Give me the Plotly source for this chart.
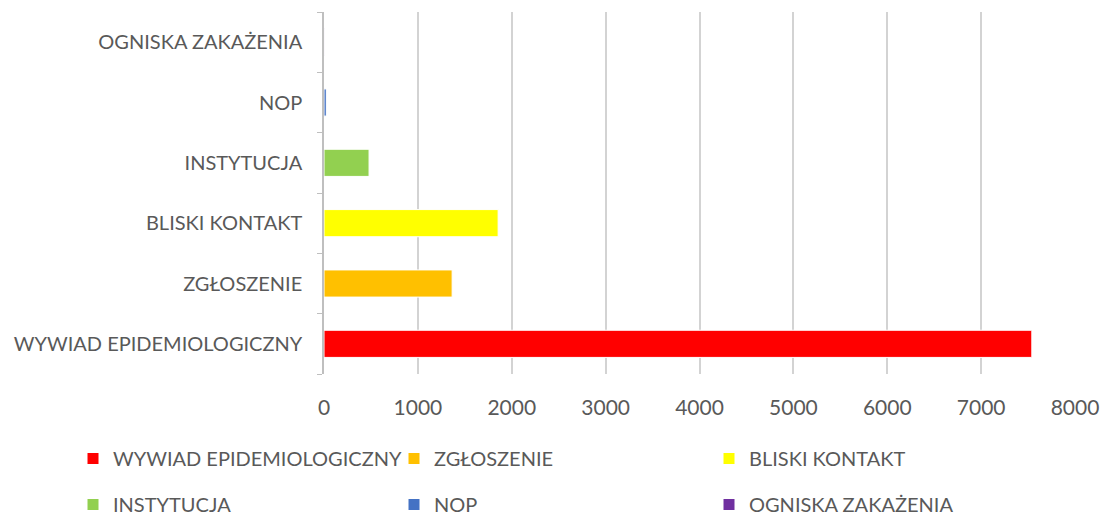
import plotly.graph_objects as go

categories = ["WYWIAD EPIDEMIOLOGICZNY", "ZGŁOSZENIE", "BLISKI KONTAKT",
              "INSTYTUCJA", "NOP", "OGNISKA ZAKAŻENIA"]
values = [7540, 1365, 1855, 480, 25, 2]
colors = ["#FF0000", "#FFC000", "#FFFF00", "#92D050", "#4472C4", "#7030A0"]
x_ticks = [0, 1000, 2000, 3000, 4000, 5000, 6000, 7000, 8000]
# legend column assignment (Excel lays the legend out in 3 columns, 2 rows)
legend_ids = ["legend", "legend2", "legend3", "legend", "legend2", "legend3"]

FONT = "Lato, 'Liberation Sans Narrow', 'Open Sans', sans-serif"
TXT = "#595959"

W, H = 1106, 517
ML, MR, MT, MB = 324, 31, 12, 143
PW = W - ML - MR


def px_to_paper_x(px):
    return (px - ML) / PW


fig = go.Figure()
for cat, val, col, lg in zip(categories, values, colors, legend_ids):
    fig.add_trace(go.Bar(
        y=[cat], x=[val], name=cat, orientation="h",
        marker=dict(color=col, line=dict(color="white", width=1)),
        width=0.45, legend=lg, legendgroup=cat,
    ))

leg_common = dict(
    orientation="v", xref="paper", yref="container",
    xanchor="left", yanchor="top", y=1 - 439 / H,
    font=dict(size=20, color=TXT, family=FONT),
    tracegroupgap=17, bgcolor="rgba(0,0,0,0)",
)

fig.update_layout(
    width=W, height=H,
    margin=dict(l=ML, r=MR, t=MT, b=MB),
    paper_bgcolor="white", plot_bgcolor="white",
    barmode="relative",
    font=dict(family=FONT, color=TXT, size=20),
    showlegend=True,
    legend=dict(x=px_to_paper_x(73), **leg_common),
    legend2=dict(x=px_to_paper_x(394), **leg_common),
    legend3=dict(x=px_to_paper_x(709), **leg_common),
)
fig.update_xaxes(
    range=[0, 8000], tickvals=x_ticks, automargin=False,
    showgrid=True, gridcolor="#d3d3d3", gridwidth=1.5,
    zeroline=False, showline=False, ticks="",
    ticklabelstandoff=19,
    tickfont=dict(size=21, color=TXT),
)
fig.update_yaxes(
    type="category", categoryorder="array", categoryarray=categories,
    automargin=False,
    showline=True, linecolor="#bfbfbf", linewidth=1.5,
    ticks="outside", tickson="boundaries", ticklen=5, tickcolor="#bfbfbf",
    showgrid=False, zeroline=False,
    ticklabelstandoff=16,
    tickfont=dict(size=20, color=TXT),
)

fig.write_html("out.html",
               config={"displayModeBar": False},
               post_script="document.body.style.margin='0';")
